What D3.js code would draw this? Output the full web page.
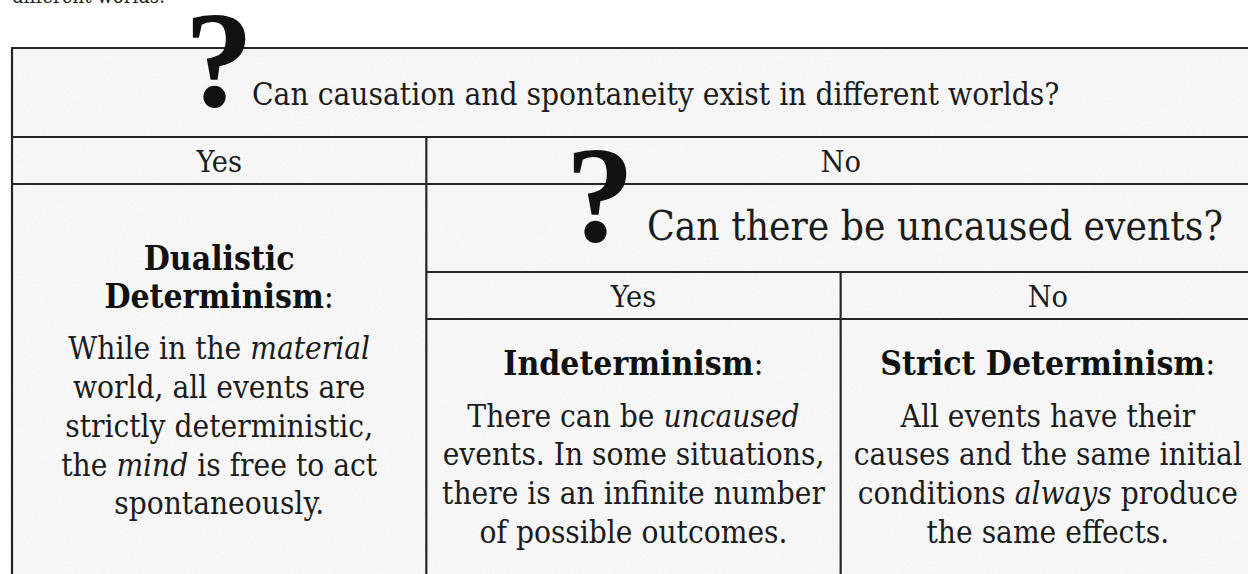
<!DOCTYPE html>
<html>
<head>
<meta charset="utf-8">
<script src="https://cdn.jsdelivr.net/npm/d3@7"></script>
<style>
html,body{margin:0;padding:0;background:#fff;overflow:hidden;}
svg{display:block;}
</style>
</head>
<body>
<svg id="chart" width="1248" height="574"></svg>
<script>
// ---------- DATA ----------
const leadIn = "different worlds.";
const questions = ["Can causation and spontaneity exist in different worlds?", "Can there be uncaused events?"];
const answersTop = ["Yes", "No"];
const answersInner = ["Yes", "No"];
const outcomeTitles = [["Dualistic", "Determinism"], ["Indeterminism"], ["Strict Determinism"]];
const outcomeBodies = [
  ["While in the *material*", "world, all events are", "strictly deterministic,", "the *mind* is free to act", "spontaneously."],
  ["There can be *uncaused*", "events. In some situations,", "there is an infinite number", "of possible outcomes."],
  ["All events have their", "causes and the same initial", "conditions *always* produce", "the same effects."]
];

// ---------- LAYOUT ----------
const W = 1248, H = 574;
const FONT = "'DejaVu Serif Condensed', 'DejaVu Serif', 'Liberation Serif', Georgia, serif";
const QFONT = "'Liberation Serif', 'DejaVu Serif', serif";
const svg = d3.select("#chart");
const x = d3.scaleLinear().domain([0, 3]).range([12, 1255]);
const rowY = d3.scaleOrdinal().domain(["top","q1","a1","q2","a2","bottom"]).range([48, 137, 184, 272, 319, 620]);
const ink = "#1c1c1c";

// background texture
const defs = svg.append("defs");
const f = defs.append("filter").attr("id","grain").attr("x",0).attr("y",0).attr("width","100%").attr("height","100%");
f.append("feTurbulence").attr("type","fractalNoise").attr("baseFrequency","0.9").attr("numOctaves",2).attr("seed",4).attr("result","n");
f.append("feColorMatrix").attr("in","n").attr("type","matrix")
  .attr("values","0 0 0 0 0.55  0 0 0 0 0.55  0 0 0 0 0.55  0 0 0 -1.6 1.0");
svg.append("rect").attr("x", x(0)).attr("y", rowY("top")).attr("width", x(3)-x(0)).attr("height", rowY("bottom")-rowY("top")).attr("fill","#f8f8f8");
svg.append("rect").attr("x", x(0)).attr("y", rowY("top")).attr("width", x(3)-x(0)).attr("height", rowY("bottom")-rowY("top")).attr("filter","url(#grain)").attr("opacity",0.15);

// measure helper
const meas = svg.append("text").attr("font-family", FONT).attr("font-size", 100).attr("opacity", 0);
function fit(str, target, weight) {
  meas.attr("font-weight", weight || "normal").text(str);
  const w = meas.node().getComputedTextLength();
  return 100 * target / w;
}
const qSize1 = fit(questions[0], 808);
const qSize2 = fit(questions[1], 576);
const bodySize = fit(outcomeBodies[1][2], 383);
const titleSize = fit(outcomeTitles[2][0], 325, "bold");
const leadSize = fit(leadIn, 153);
const ansSize = bodySize * 0.97;
meas.remove();

// lead-in text (cut off at top, as in the source)
svg.append("text").attr("x", 12).attr("y", 3).attr("font-family", FONT).attr("font-size", leadSize).attr("fill", ink).text(leadIn);

// grid lines
const lines = [
  {x1: 0, x2: 3, y: "top"},
  {x1: 0, x2: 3, y: "q1"},
  {x1: 0, x2: 3, y: "a1"},
  {x1: 1, x2: 3, y: "q2"},
  {x1: 1, x2: 3, y: "a2"}
];
svg.selectAll("line.h").data(lines).join("line").attr("class","h")
  .attr("x1", d => x(d.x1) - (d.x1 === 0 ? 1 : 0)).attr("x2", d => x(d.x2))
  .attr("y1", d => rowY(d.y)).attr("y2", d => rowY(d.y))
  .attr("stroke", "#262626").attr("stroke-width", 2.2);
const vlines = [
  {x: 0, y1: "top", y2: "bottom"},
  {x: 1, y1: "q1", y2: "bottom"},
  {x: 2, y1: "q2", y2: "bottom"}
];
svg.selectAll("line.v").data(vlines).join("line").attr("class","v")
  .attr("x1", d => x(d.x)).attr("x2", d => x(d.x))
  .attr("y1", d => rowY(d.y1)).attr("y2", d => rowY(d.y2))
  .attr("stroke", "#262626").attr("stroke-width", 2.2);

// question marks and questions
const qInfo = [
  {q: questions[0], size: qSize1, markX: 219, base: 105, textX: 252},
  {q: questions[1], size: qSize2, markX: 600, base: 240, textX: 647}
];
qInfo.forEach(d => {
  svg.append("text").attr("x", d.markX).attr("y", d.base + 1).attr("text-anchor","middle")
    .attr("font-family", QFONT).attr("font-weight","bold").attr("font-size", 138).attr("fill", "#111").text("?");
  svg.append("text").attr("x", d.textX).attr("y", d.base).attr("font-family", FONT)
    .attr("font-size", d.size).attr("fill", ink).text(d.q);
});

// answers
answersTop.forEach((a, i) => {
  const cx = i === 0 ? (x(0)+x(1))/2 : (x(1)+x(3))/2;
  svg.append("text").attr("x", cx).attr("y", 172).attr("text-anchor","middle")
    .attr("font-family", FONT).attr("font-size", ansSize).attr("fill", ink).text(a);
});
answersInner.forEach((a, i) => {
  const cx = (x(1+i)+x(2+i))/2;
  svg.append("text").attr("x", cx).attr("y", 307).attr("text-anchor","middle")
    .attr("font-family", FONT).attr("font-size", ansSize).attr("fill", ink).text(a);
});

// outcomes
const titleBase = [[270, 308], [375], [375]];
const bodyBase = [[359, 398, 437, 476, 514], [427, 465, 504, 543], [427, 465, 504, 543]];
outcomeTitles.forEach((lns, i) => {
  const cx = (x(i)+x(i+1))/2;
  lns.forEach((ln, j) => {
    const t = svg.append("text").attr("x", cx).attr("y", titleBase[i][j]).attr("text-anchor","middle")
      .attr("font-family", FONT).attr("font-size", titleSize).attr("fill", "#111");
    t.append("tspan").attr("font-weight","bold").text(ln);
    if (j === lns.length - 1) t.append("tspan").attr("font-weight","normal").text(":");
  });
  outcomeBodies[i].forEach((ln, j) => {
    const t = svg.append("text").attr("x", cx).attr("y", bodyBase[i][j]).attr("text-anchor","middle")
      .attr("font-family", FONT).attr("font-size", bodySize).attr("fill", ink);
    ln.split("*").forEach((seg, k) => {
      if (!seg) return;
      t.append("tspan").attr("font-style", k % 2 ? "italic" : "normal").text(seg);
    });
  });
});
</script>
</body>
</html>
